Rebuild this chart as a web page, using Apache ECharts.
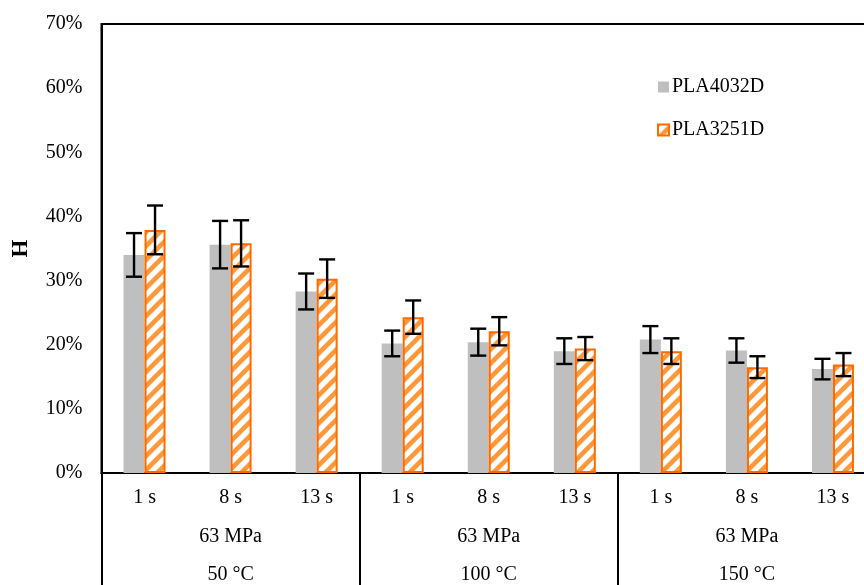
<!DOCTYPE html>
<html>
<head>
<meta charset="utf-8">
<script src="https://cdn.jsdelivr.net/npm/echarts@6/dist/echarts.min.js"></script>
<style>
  html, body { margin: 0; padding: 0; background: #fff; }
  #chart { width: 864px; height: 585px; }
</style>
</head>
<body>
<div id="chart"></div>
<script>
// Holding times (inner category row), then pressure and temperature rows
const times = ['1 s', '8 s', '13 s', '1 s', '8 s', '13 s', '1 s', '8 s', '13 s'];
const pressures = ['63 MPa', '63 MPa', '63 MPa'];
const temperatures = ['50 °C', '100 °C', '150 °C'];

// H (%) per material, with standard deviations
const pla4032d = [34.0, 35.6, 28.3, 20.2, 20.4, 19.0, 20.8, 19.1, 16.2];
const pla4032dErr = [3.4, 3.7, 2.8, 2.0, 2.1, 2.0, 2.1, 1.9, 1.6];
const pla3251d = [37.9, 35.8, 30.3, 24.3, 22.1, 19.4, 19.0, 16.5, 16.9];
const pla3251dErr = [3.8, 3.6, 3.0, 2.6, 2.2, 1.8, 2.0, 1.7, 1.8];

const yTicks = { min: 0, max: 70, interval: 10 };

const FONT = "'Liberation Serif', 'Times New Roman', serif";
const BAR_W = 21;

// diagonal hatch fill for the second material
function hatchPattern() {
  const s = 14;
  const c = document.createElement('canvas');
  c.width = s; c.height = s;
  const g = c.getContext('2d');
  g.fillStyle = '#ffffff';
  g.fillRect(0, 0, s, s);
  g.strokeStyle = '#FF9838';
  g.lineWidth = 4.6;
  g.beginPath();
  g.moveTo(0, s); g.lineTo(s, 0);
  g.moveTo(-s / 2, s / 2); g.lineTo(s / 2, -s / 2);
  g.moveTo(s / 2, s * 1.5); g.lineTo(s * 1.5, s / 2);
  g.stroke();
  return c;
}

function errorBars(values, errs, offset) {
  return {
    type: 'custom',
    xAxisIndex: 0,
    yAxisIndex: 0,
    z: 5,
    silent: true,
    data: values.map((v, i) => [i, v, errs[i]]),
    renderItem: function (params, api) {
      const i = api.value(0), v = api.value(1), e = api.value(2);
      const hi = api.coord([i, v + e]);
      const lo = api.coord([i, v - e]);
      const x = hi[0] + offset;
      const cap = 8;
      const style = { stroke: '#000', lineWidth: 2.4 };
      return {
        type: 'group',
        children: [
          { type: 'line', shape: { x1: x, y1: hi[1], x2: x, y2: lo[1] }, style },
          { type: 'line', shape: { x1: x - cap, y1: hi[1], x2: x + cap, y2: hi[1] }, style },
          { type: 'line', shape: { x1: x - cap, y1: lo[1], x2: x + cap, y2: lo[1] }, style }
        ]
      };
    }
  };
}

const chart = echarts.init(document.getElementById('chart'), null, { renderer: 'canvas' });

chart.setOption({
  animation: false,
  backgroundColor: '#ffffff',
  textStyle: { fontFamily: FONT, color: '#000' },
  grid: {
    left: 101.5, top: 24, right: -12, bottom: 112,
    outerBoundsMode: 'none',
    containLabel: false,
    show: true, borderColor: '#000', borderWidth: 2, backgroundColor: 'transparent'
  },
  legend: {
    orient: 'vertical',
    left: 652, top: 72,
    itemWidth: 11, itemHeight: 11, itemGap: 23,
    icon: 'rect',
    textStyle: { fontFamily: FONT, fontSize: 20, color: '#000', padding: [0, 0, 0, -2] },
    data: ['PLA4032D', 'PLA3251D']
  },
  xAxis: [
    {
      type: 'category',
      position: 'bottom',
      data: times,
      axisLine: { show: true, lineStyle: { color: '#000', width: 2 } },
      axisTick: { show: false },
      axisLabel: { fontFamily: FONT, fontSize: 20, color: '#000', margin: 15, interval: 0 }
    },
    {
      type: 'category',
      position: 'bottom',
      data: pressures,
      axisLine: { show: false },
      axisTick: { show: true, length: 120, lineStyle: { color: '#000', width: 2 } },
      axisLabel: { fontFamily: FONT, fontSize: 20, color: '#000', margin: 54, interval: 0 }
    },
    {
      type: 'category',
      position: 'bottom',
      data: temperatures,
      axisLine: { show: false },
      axisTick: { show: false },
      axisLabel: { fontFamily: FONT, fontSize: 20, color: '#000', margin: 92, interval: 0 }
    }
  ],
  yAxis: {
    type: 'value',
    min: yTicks.min, max: yTicks.max, interval: yTicks.interval,
    name: 'H',
    nameLocation: 'middle',
    nameRotate: 90,
    nameGap: 69,
    nameTextStyle: { fontFamily: FONT, fontSize: 23, fontWeight: 'bold', color: '#000' },
    axisLine: { show: true, lineStyle: { color: '#000', width: 2 } },
    axisTick: { show: false },
    splitLine: { show: false },
    axisLabel: { fontFamily: FONT, fontSize: 20, color: '#000', margin: 19, formatter: '{value}%' }
  },
  series: [
    {
      name: 'PLA4032D',
      type: 'bar',
      xAxisIndex: 0,
      barWidth: BAR_W,
      barGap: '0%',
      itemStyle: { color: '#BFBFBF' },
      data: pla4032d
    },
    {
      name: 'PLA3251D',
      type: 'bar',
      xAxisIndex: 0,
      barWidth: BAR_W,
      barGap: '0%',
      itemStyle: {
        color: { image: hatchPattern(), repeat: 'repeat' },
        borderColor: '#FF6A00',
        borderWidth: 2
      },
      data: pla3251d
    },
    errorBars(pla4032d, pla4032dErr, -BAR_W / 2),
    errorBars(pla3251d, pla3251dErr, BAR_W / 2)
  ]
});
</script>
</body>
</html>
